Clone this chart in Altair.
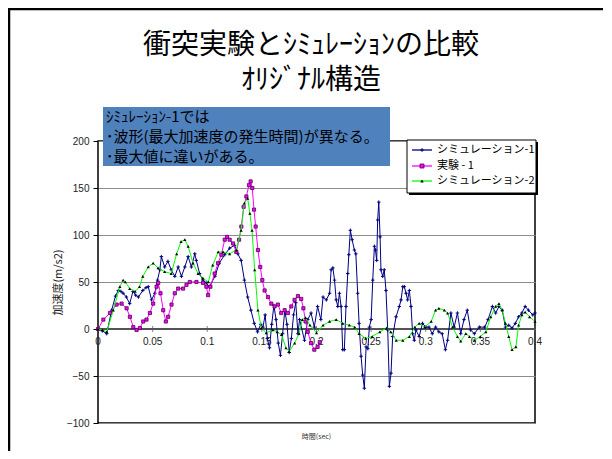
import altair as alt
import pandas as pd

# ---------------- data ----------------
sim1_t = [0, 0.004, 0.008, 0.0125, 0.016, 0.0186, 0.021, 0.023, 0.026, 0.029, 0.032, 0.0345, 0.037, 0.041,
          0.044, 0.046, 0.049, 0.052, 0.0545, 0.0566, 0.058, 0.061, 0.064, 0.067, 0.0703, 0.0734, 0.0764,
          0.0795, 0.0825, 0.0855, 0.0886, 0.090, 0.093, 0.096, 0.099, 0.102, 0.107, 0.111, 0.116, 0.1205,
          0.125, 0.128, 0.131, 0.134, 0.137, 0.140, 0.143, 0.146, 0.149, 0.151, 0.153, 0.155, 0.157, 0.159,
          0.161, 0.163, 0.165, 0.167, 0.169, 0.171, 0.173, 0.175, 0.177, 0.179, 0.181, 0.183, 0.1845, 0.189,
          0.192, 0.195, 0.198, 0.201, 0.204, 0.206, 0.209, 0.212, 0.2134, 0.215, 0.2165, 0.218, 0.2195, 0.221,
          0.2225, 0.224, 0.2255, 0.227, 0.2286, 0.2296, 0.231, 0.2326, 0.2347, 0.236, 0.2377, 0.239, 0.2408,
          0.2423, 0.2438, 0.2454, 0.247, 0.2484, 0.25, 0.2515, 0.253, 0.254, 0.2551, 0.256, 0.257, 0.2582,
          0.259, 0.2606, 0.262, 0.2636, 0.2652, 0.2667, 0.2682, 0.2697, 0.2728, 0.2758, 0.2774, 0.279, 0.2804,
          0.282, 0.2834, 0.285, 0.2865, 0.288, 0.2895, 0.291, 0.294, 0.297, 0.300, 0.303, 0.306, 0.309, 0.312,
          0.315, 0.318, 0.320, 0.323, 0.326, 0.329, 0.332, 0.335, 0.338, 0.341, 0.3445, 0.349, 0.354, 0.357,
          0.361, 0.364, 0.367, 0.370, 0.373, 0.376, 0.379, 0.382, 0.385, 0.388, 0.391, 0.394, 0.398, 0.4]
sim1_v = [0, -2, -5, 20, 35, 41, 40, 38, 34, 27, 40, 36, 34, 41,
          44, 45, 31, 38, 52, 63, 77, 66, 72, 63, 56, 66, 56,
          66, 77, 66, 80, 73, 59, 52, 49, 45, 56, 70, 79, 86,
          89, 80, 73, 52, 34, 20, 6, -3, 5, 2, 15, -10, -20, 5,
          25, 10, -15, -28, -5, 20, 5, -25, -10, 15, 28, -5, 10, -12,
          10, 17, 2, 24, 10, 34, 31, 38, 63, 65, 52, 31, 24, 38,
          24, -22, -22, 24, 59, 79, 105, 95, 84, 80, 38, 6, -29,
          -49, -63, -19, -21, 2, 10, 52, 88, 84, 73, 116, 135, 98,
          63, 56, 63, 41, -1, -61, -47, -8, 13, 24, 31, 45, 45,
          38, 31, 41, 24, -5, -12, -1, -8, 6, 2, 2, -5, 2, -3,
          -5, -22, -12, 17, 2, 17, -5, 10, 20, -1, -5, 2, 2, 10,
          24, 17, 24, 20, 2, 4, 1, 6, 13, 17, 24, 20, 15, 17]

exp_t = [0, 0.0049, 0.011, 0.017, 0.0216, 0.0262, 0.0292, 0.0323, 0.0353, 0.0384, 0.0414, 0.0444, 0.0475,
         0.0505, 0.0536, 0.0551, 0.0572, 0.0597, 0.0621, 0.0642, 0.0673, 0.0703, 0.0734, 0.0779, 0.081, 0.084,
         0.0901, 0.0962, 0.0992, 0.1008, 0.1029, 0.1068, 0.1099, 0.1129, 0.116, 0.1181, 0.1205, 0.1236, 0.1266,
         0.1291, 0.1312, 0.1333, 0.1358, 0.1382, 0.1397, 0.1412, 0.1428, 0.1443, 0.1464, 0.1485, 0.1504, 0.1525,
         0.1556, 0.1586, 0.1616, 0.1647, 0.1677, 0.1708, 0.1738, 0.1769, 0.1799, 0.183, 0.186, 0.188, 0.190,
         0.192, 0.195, 0.198, 0.201, 0.203]
exp_v = [0, 10, 17, 26, 27, 22, 13, 2, -1, 1, 8, 10, 17,
         27, 45, 49, 38, 20, 8, 13, 26, 38, 43, 43, 47, 50,
         50, 49, 45, 36, 45, 59, 70, 79, 95, 98, 95, 91, 82,
         95, 109, 130, 141, 153, 157, 150, 127, 109, 84, 66, 52, 41,
         34, 27, 24, 26, 17, 20, 17, 24, 31, 35, 32, 22, 8,
         -3, -15, -22, -19, -14]

sim2_t = [0, 0.004, 0.008, 0.014, 0.020, 0.023, 0.025, 0.029, 0.034, 0.038, 0.041, 0.046, 0.0505, 0.055,
          0.061, 0.067, 0.072, 0.076, 0.0795, 0.0825, 0.087, 0.0916, 0.096, 0.101, 0.105, 0.110, 0.1145,
          0.1205, 0.1266, 0.131, 0.134, 0.137, 0.139, 0.141, 0.1434, 0.1464, 0.1495, 0.154, 0.160, 0.164,
          0.168, 0.172, 0.175, 0.180, 0.184, 0.187, 0.190, 0.194, 0.200, 0.206, 0.212, 0.218, 0.224, 0.230,
          0.235, 0.239, 0.245, 0.251, 0.258, 0.264, 0.268, 0.273, 0.279, 0.285, 0.290, 0.294, 0.299, 0.305,
          0.309, 0.312, 0.317, 0.320, 0.3245, 0.329, 0.332, 0.3367, 0.340, 0.3445, 0.350, 0.355, 0.3595,
          0.364, 0.367, 0.370, 0.373, 0.376, 0.379, 0.3825, 0.385, 0.388, 0.391, 0.395, 0.4]
sim2_v = [0, -1, -3, 20, 45, 52, 50, 43, 40, 45, 56, 66, 70, 65,
          61, 59, 80, 93, 95, 88, 70, 59, 54, 50, 68, 82, 82,
          80, 84, 105, 134, 139, 123, 105, 63, 20, 1, -4, -1, -3,
          -6, -20, -24, -15, -5, 10, 12, 4, -4, 4, 8, 10, 6, 4,
          2, -5, -10, -8, -3, 1, -3, -12, -12, -8, 2, 6, 2, 8,
          20, 22, 20, 17, 2, -8, -13, -5, -8, -12, -8, -3, 13,
          24, 27, 20, 6, -8, -22, -19, 4, 15, 18, 13, 8]

x_tick_values = [0, 0.05, 0.1, 0.15, 0.2, 0.25, 0.3, 0.35, 0.4]
x_tick_labels = ["0", "0.05", "0.1", "0.15", "0.2", "0.25", "0.3", "0.35", "0.4"]
y_tick_values = [-100, -50, 0, 50, 100, 150, 200]

title_lines = ["衝突実験とｼﾐｭﾚｰｼｮﾝの比較", "ｵﾘｼﾞﾅﾙ構造"]
note_lines = ["ｼﾐｭﾚｰｼｮﾝ-1では", "･波形(最大加速度の発生時間)が異なる。", "･最大値に違いがある。"]
legend_labels = ["シミュレーション-1", "実験 - 1", "シミュレーション-2"]
y_title = "加速度(m/s2)"
x_title = "時間(sec)"

# ---------------- chart ----------------
W, H = 437, 282
JP = "Noto Sans CJK JP"
NUM = "Liberation Sans"

xs = alt.Scale(domain=[0, 0.4], nice=False, zero=False)
ys = alt.Scale(domain=[-100, 200], nice=False, zero=False)
yaxis = alt.Axis(values=y_tick_values, grid=True, gridColor="#8c8c8c", gridWidth=1, domain=False,
                 ticks=True, tickSize=5, tickColor="black", labelFont=NUM, labelFontSize=10,
                 labelColor="#222222", labelPadding=4, title=y_title, titleFont=JP, titleFontSize=11,
                 titleFontWeight="normal", titleColor="#222222", titlePadding=3)

df1 = pd.DataFrame({"t": sim1_t, "v": sim1_v})
dfe = pd.DataFrame({"t": exp_t, "v": exp_v})
df2 = pd.DataFrame({"t": sim2_t, "v": sim2_v})
dft = pd.DataFrame({"t": x_tick_values, "lbl": x_tick_labels, "z": [0] * len(x_tick_values)})
one = pd.DataFrame({"a": [0]})

X = alt.X("t:Q", scale=xs, axis=None)
Y = alt.Y("v:Q", scale=ys, axis=yaxis)

zero_line = alt.Chart(dft).mark_rule(color="#555555", strokeWidth=1).encode(
    y=alt.Y("z:Q", scale=ys, axis=yaxis), x=alt.value(0), x2=alt.value(W))
x_ticks = alt.Chart(dft).mark_tick(color="#555555", thickness=1, size=6, orient="vertical").encode(
    x=X, y=alt.Y("z:Q", scale=ys, axis=yaxis))
x_labels = alt.Chart(dft).mark_text(font=NUM, fontSize=10, color="#222222", dy=13).encode(
    x=X, y=alt.Y("z:Q", scale=ys, axis=yaxis), text="lbl:N")

plus_path = "M-1,0L1,0M0,-1L0,1"
blue_line = alt.Chart(df1).mark_line(color="#000080", strokeWidth=1).encode(x=X, y=Y)
blue_pts = alt.Chart(df1).mark_point(shape=plus_path, filled=False, color="#000080", size=12,
                                     strokeWidth=1, opacity=1).encode(x=X, y=Y)
pink_line = alt.Chart(dfe).mark_line(color="#FF00FF", strokeWidth=1).encode(x=X, y=Y)
pink_pts = alt.Chart(dfe).mark_point(shape="square", filled=True, fill="#FF00FF", stroke="#500050",
                                     strokeWidth=0.8, size=10, opacity=1).encode(x=X, y=Y)
green_line = alt.Chart(df2).mark_line(color="#00FF00", strokeWidth=1).encode(x=X, y=Y)
green_pts = alt.Chart(df2).mark_point(shape="triangle-up", filled=True, color="black", size=10,
                                      opacity=1).encode(x=X, y=Y)

deco = []
# slide border
deco.append(alt.Chart(one).mark_rule(color="black", strokeWidth=2.5).encode(
    x=alt.value(-89), y=alt.value(-132), y2=alt.value(H + 30)))
deco.append(alt.Chart(one).mark_rule(color="black", strokeWidth=2.5).encode(
    x=alt.value(-90), x2=alt.value(510), y=alt.value(-132)))
# two-line title as one text block (first line at the anchor)
deco.append(alt.Chart(one).mark_text(text=title_lines, font=JP, fontSize=28, lineHeight=35,
                                     align="center", baseline="middle", color="black").encode(
    x=alt.value(213), y=alt.value(-95)))
# note box
deco.append(alt.Chart(one).mark_rect(color="#4F81BD").encode(
    x=alt.value(5), x2=alt.value(292), y=alt.value(-34), y2=alt.value(25)))
for i, line in enumerate(note_lines):
    deco.append(alt.Chart(one).mark_text(text=line, font=JP, fontSize=15, align="left",
                                         baseline="middle", color="black").encode(
        x=alt.value(8), y=alt.value(-24 + 20 * i)))
# legend
deco.append(alt.Chart(one).mark_rect(color="black").encode(
    x=alt.value(311), x2=alt.value(440), y=alt.value(1), y2=alt.value(54)))
deco.append(alt.Chart(one).mark_rect(fill="white", stroke="black", strokeWidth=1).encode(
    x=alt.value(309), x2=alt.value(438), y=alt.value(-1), y2=alt.value(52)))
leg_y = [9, 25, 40]
leg_line_col = ["#000080", "#FF00FF", "#00FF00"]
for i in range(3):
    deco.append(alt.Chart(one).mark_rule(color=leg_line_col[i], strokeWidth=1.3).encode(
        x=alt.value(314), x2=alt.value(334), y=alt.value(leg_y[i])))
    deco.append(alt.Chart(one).mark_text(text=legend_labels[i], font=JP, fontSize=11, align="left",
                                         baseline="middle", color="black").encode(
        x=alt.value(339), y=alt.value(leg_y[i])))
deco.append(alt.Chart(one).mark_point(shape=plus_path, filled=False, color="#000080", size=14,
                                      strokeWidth=1, opacity=1).encode(x=alt.value(324), y=alt.value(leg_y[0])))
deco.append(alt.Chart(one).mark_point(shape="square", filled=True, fill="#FF00FF", stroke="#500050",
                                      strokeWidth=0.8, size=16, opacity=1).encode(x=alt.value(324), y=alt.value(leg_y[1])))
deco.append(alt.Chart(one).mark_point(shape="triangle-up", filled=True, color="black", size=12,
                                      opacity=1).encode(x=alt.value(324), y=alt.value(leg_y[2])))
# x title
deco.append(alt.Chart(one).mark_text(text=x_title, font=JP, fontSize=7, align="center",
                                     baseline="middle", color="#333333").encode(
    x=alt.value(W / 2), y=alt.value(H + 14)))

chart = alt.layer(zero_line, x_ticks, x_labels, blue_line, blue_pts, pink_line, pink_pts,
                  green_line, green_pts, *deco).properties(
    width=W, height=H,
    padding={"left": 90, "top": 133, "right": 68, "bottom": 28},
    autosize=alt.AutoSizeParams(type="none"),
    background="white",
).configure_view(stroke="black", strokeWidth=1.5)

chart.save("out.html", embed_options={"renderer": "svg", "actions": False})
